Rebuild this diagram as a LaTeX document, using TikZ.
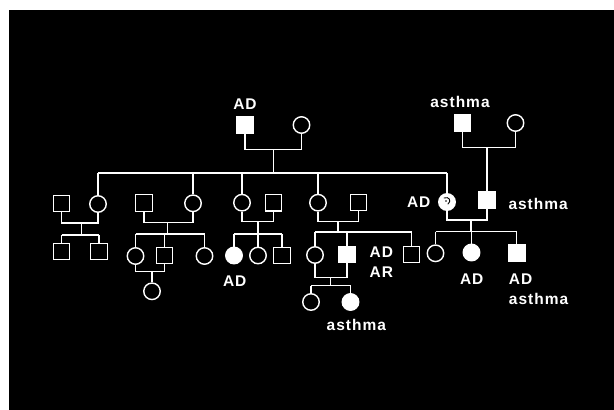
\documentclass[tikz,border=0pt]{standalone}
\usepackage{fontspec}
\newfontfamily\lblfont{Liberation Sans}[LetterSpace=6.5]
\begin{document}
\begin{tikzpicture}[x=1pt,y=-1pt,
  link/.style={draw=white, line width=1.4pt, line join=miter},
  person/.style={draw=white, line width=1.4pt, minimum size=16.5pt, inner sep=0pt},
  male/.style={person, rectangle},
  female/.style={person, circle},
  affected/.style={fill=white},
  lbl/.style={text=white, inner sep=0pt, font=\lblfont\bfseries\fontsize{15.5}{18}\selectfont}]

% page and dark panel
\useasboundingbox (0,0) rectangle (614,410);
\fill[white] (0,0) rectangle (614,410);
\fill[black] (9,10) rectangle (614,410);

% ---------- first generation ----------
\node[male, affected] (g1m) at (245,125) {};
\node[female] (g1f) at (301.5,125) {};
\node[male, affected] (g2m) at (462.5,123) {};
\node[female] (g2f) at (515.5,123) {};

% ---------- second generation ----------
\node[male]   (a1) at (61.5,203.5) {};
\node[female] (a2) at (98,204) {};
\node[male]   (b1) at (144,203) {};
\node[female] (b2) at (193,203.3) {};
\node[female] (c1) at (242,202.7) {};
\node[male]   (c2) at (273.5,202.7) {};
\node[female] (d1) at (318,202.7) {};
\node[male]   (d2) at (358.5,202.5) {};
\node[female, fill=white] (e1) at (447,202) {};
\node[male, affected] (e2) at (487,200) {};

% ---------- third generation ----------
\node[male]   (a3) at (61.5,251.5) {};
\node[male]   (a4) at (99,251.5) {};
\node[female] (b3) at (135.5,256) {};
\node[male]   (b4) at (164.5,255.5) {};
\node[female] (b5) at (204.5,256) {};
\node[female, affected] (c3) at (234,255.5) {};
\node[female] (c4) at (258,255.5) {};
\node[male]   (c5) at (282,255.5) {};
\node[female] (d3) at (315,255) {};
\node[male, affected] (d4) at (347,254.5) {};
\node[male]   (d5) at (411.5,254.5) {};
\node[female] (e3) at (435.5,253.3) {};
\node[female, affected] (e4) at (471.5,252.5) {};
\node[male, affected] (e5) at (516.7,252.7) {};

% ---------- fourth generation ----------
\node[female] (b6) at (152,291.3) {};
\node[female] (d6) at (311,302) {};
\node[female, affected] (d7) at (350.5,302) {};

% speckle mark in the partly shaded circle
\draw[black, line width=0.9pt, line cap=round]
  ([shift={(-3,-4)}]e1.center) .. controls ([shift={(2,-6)}]e1.center) and ([shift={(5,-1)}]e1.center) .. ([shift={(1,2)}]e1.center);
\fill[black] ([shift={(-1,-1)}]e1.center) circle (0.8);

% ---------- marriages and sibships ----------
\coordinate (m1) at (273.3,149.5);
\coordinate (s1) at (273.3,173);
\draw[link] (g1m.south) |- (m1) -| (g1f.south);
\draw[link] (m1) -- (s1);
\draw[link] (a2 |- s1) -- (e1 |- s1);
\foreach \c in {a2,b2,c1,d1,e1} \draw[link] (\c |- s1) -- (\c.north);

\coordinate (m2) at (487,147.3);
\draw[link] (g2m.south) |- (m2) -| (g2f.south);
\draw[link] (m2) -- (e2.north);

\coordinate (ma) at (81.5,223);
\coordinate (sa) at (81.5,235);
\draw[link] (a1.south) |- (ma) -| (a2.south);
\draw[link] (ma) -- (sa);
\draw[link] (a3 |- sa) -- (a4 |- sa);
\foreach \c in {a3,a4} \draw[link] (\c |- sa) -- (\c.north);

\coordinate (mb) at (167.5,222.3);
\coordinate (sb) at (167.5,234);
\draw[link] (b1.south) |- (mb) -| (b2.south);
\draw[link] (mb) -- (sb);
\draw[link] (b3 |- sb) -- (b5 |- sb);
\foreach \c in {b3,b4,b5} \draw[link] (\c |- sb) -- (\c.north);
\coordinate (mb2) at (152,271.7);
\draw[link] (b3.south) |- (mb2) -| (b4.south);
\draw[link] (mb2) -- (b6.north);

\coordinate (mc) at (258,221.7);
\coordinate (sc) at (258,234);
\draw[link] (c1.south) |- (mc) -| (c2.south);
\draw[link] (mc) -- (sc);
\draw[link] (c3 |- sc) -- (c5 |- sc);
\foreach \c in {c3,c4,c5} \draw[link] (\c |- sc) -- (\c.north);

\coordinate (md) at (338,221.7);
\coordinate (sd) at (338,232);
\draw[link] (d1.south) |- (md) -| (d2.south);
\draw[link] (md) -- (sd);
\draw[link] (d3 |- sd) -- (d5 |- sd);
\foreach \c in {d3,d4,d5} \draw[link] (\c |- sd) -- (\c.north);
\coordinate (md2) at (330.7,277.3);
\coordinate (sd2) at (330.7,285.7);
\draw[link] (d3.south) |- (md2) -| (d4.south);
\draw[link] (md2) -- (sd2);
\draw[link] (d6 |- sd2) -- (d7 |- sd2);
\foreach \c in {d6,d7} \draw[link] (\c |- sd2) -- (\c.north);

\coordinate (me) at (471,220);
\coordinate (se) at (471,231.7);
\draw[link] (e1.south) |- (me) -| (e2.south);
\draw[link] (me) -- (se);
\draw[link] (e3 |- se) -- (e5 |- se);
\foreach \c in {e3,e4,e5} \draw[link] (\c |- se) -- (\c.north);

% ---------- labels ----------
\node[lbl, anchor=base] (t1) at (245,109.3) {AD};
\node[lbl, anchor=base] (t2) at (460,107.3) {asthma};
\node[lbl, anchor=base] (t3) at (418.7,207.7) {AD};
\node[lbl, anchor=base west] (t4) at (508.3,209.3) {asthma};
\node[lbl, anchor=base] (t5) at (234.7,286.7) {AD};
\node[lbl, anchor=base west] (t6) at (369.5,257.7) {AD};
\node[lbl, anchor=base west] (t7) at (369.5,277.7) {AR};
\node[lbl, anchor=base] (t8) at (356.3,330.7) {asthma};
\node[lbl, anchor=base] (t9) at (471.7,284) {AD};
\node[lbl, anchor=base west] (t10) at (508.7,284) {AD};
\node[lbl, anchor=base west] (t11) at (508.7,304.2) {asthma};
\end{tikzpicture}
\end{document}
